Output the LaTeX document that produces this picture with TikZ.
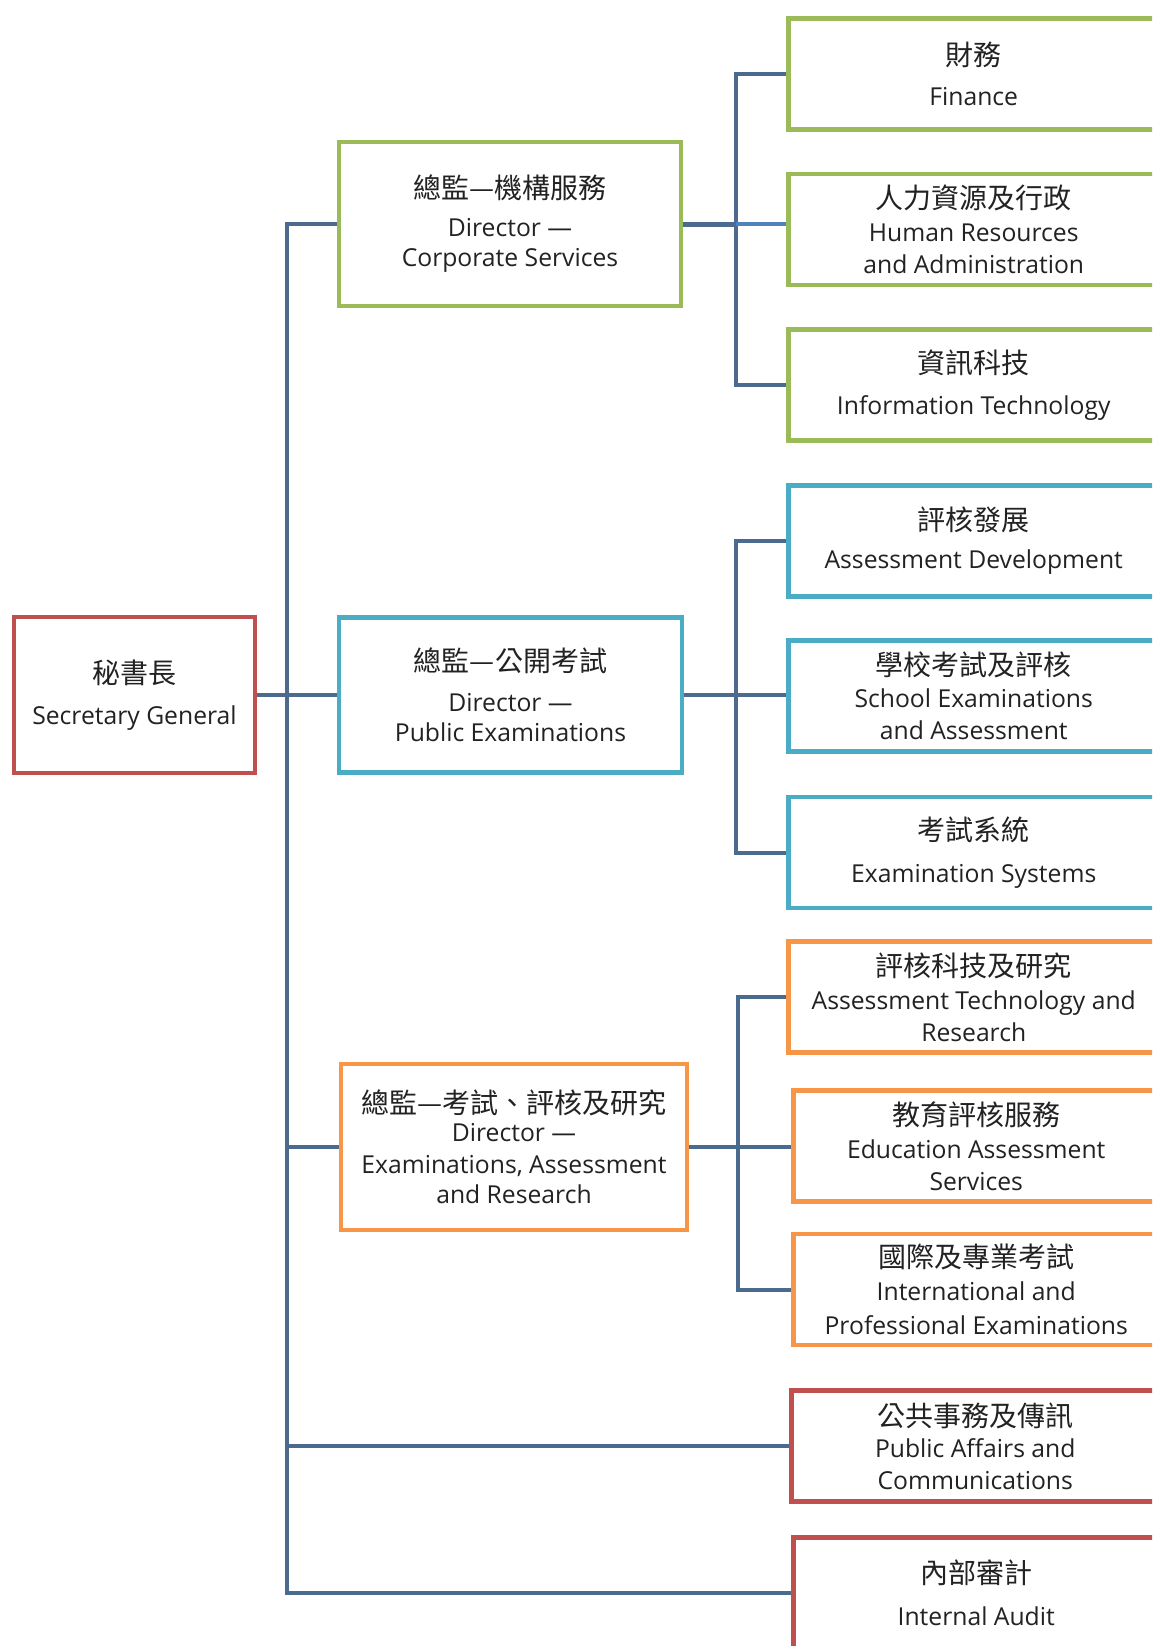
\documentclass[tikz,border=0pt]{standalone}
\usepackage{fontspec}
\setmainfont{Open Sans}
\newfontfamily\cjk{Noto Sans CJK TC}
\definecolor{grn}{HTML}{9BBB59}
\definecolor{blu}{HTML}{4BACC6}
\definecolor{org}{HTML}{F79646}
\definecolor{rdc}{HTML}{C0504D}
\definecolor{lnc}{HTML}{4A6A8F}
\definecolor{lnl}{HTML}{4F81BD}
\definecolor{txc}{HTML}{222222}
\newcommand\zhtxt[1]{{\cjk\fontsize{28}{32}\selectfont #1}}
\begin{document}
\begin{tikzpicture}[x=1pt,y=-1pt,
  box/.style={draw, line width=4.5pt, fill=white, align=center, inner sep=0pt,
    text=txc, font=\fontsize{24.7}{32}\selectfont},
  kid/.style={box, anchor=west, minimum height=111pt},
  conn/.style={draw=lnc, line width=4pt, line join=miter}]
\useasboundingbox (0,0) rectangle (1152,1646);
\clip (0,0) rectangle (1152,1646);
\fill[white] (0,0) rectangle (1152,1646);

% level 0 and 1
\node[box, draw=rdc, minimum width=241pt, minimum height=156pt] (sg) at (134.5,695)
  {\zhtxt{秘書長}\\[9pt]Secretary General};
\node[box, draw=grn, minimum width=342pt, minimum height=164pt] (corp) at (510,224)
  {\zhtxt{總監—機構服務}\\[6pt]Director —\\[-2pt]Corporate Services};
\node[box, draw=blu, minimum width=343pt, minimum height=155pt] (pub) at (510.5,695)
  {\zhtxt{總監—公開考試}\\[8pt]Director —\\[-2pt]Public Examinations};
\node[box, draw=org, minimum width=346pt, minimum height=166pt] (ear) at (514,1147)
  {\zhtxt{總監—考試、評核及研究}\\[-4pt]Director —\\Examinations, Assessment\\[-2pt]and Research};

% children
\node[kid, draw=grn, minimum width=371pt] (fin) at (786,74) {\zhtxt{財務}\\[8pt]Finance};
\node[kid, draw=grn, minimum width=371pt] (hr) at (786,229.5) {\zhtxt{人力資源及行政}\\[1pt]Human Resources\\and Administration};
\node[kid, draw=grn, minimum width=371pt] (it) at (786,385) {\zhtxt{資訊科技}\\[9pt]Information Technology};
\node[kid, draw=blu, minimum width=371pt] (ad) at (786,541) {\zhtxt{評核發展}\\[6pt]Assessment Development};
\node[kid, draw=blu, minimum width=371pt] (se) at (786,696) {\zhtxt{學校考試及評核}\\[0pt]School Examinations\\and Assessment};
\node[kid, draw=blu, minimum width=371pt] (es) at (786,852.5) {\zhtxt{考試系統}\\[10pt]Examination Systems};
\node[kid, draw=org, minimum width=371pt] (atr) at (786,997) {\zhtxt{評核科技及研究}\\[1pt]Assessment Technology and\\Research};
\node[kid, draw=org, minimum width=366pt] (eas) at (791,1146) {\zhtxt{教育評核服務}\\[1pt]Education Assessment\\Services};
\node[kid, draw=org, minimum width=366pt] (ipe) at (791,1289.5) {\zhtxt{國際及專業考試}\\[1pt]International and\\[2pt]Professional Examinations};
\node[kid, draw=rdc, minimum width=368pt] (pac) at (789,1446) {\zhtxt{公共事務及傳訊}\\[-1pt]Public Affairs and\\Communications};
\node[kid, draw=rdc, minimum width=366pt] (ia) at (791,1593) {\zhtxt{內部審計}\\[10pt]Internal Audit};

% bus positions
\coordinate (tr) at (287,0);
\coordinate (b1) at (736,0);
\coordinate (b2) at (736,0);
\coordinate (b3) at (738,0);

% connectors
\draw[conn] (corp.west) -| (tr |- ia.west) -- (ia.west);
\draw[conn] (sg.east) -- (pub.west);
\draw[conn] (tr |- ear.west) -- (ear.west);
\draw[conn] (tr |- pac.west) -- (pac.west);

\draw[conn] (fin.west) -| (b1 |- it.west) -- (it.west);
\draw[conn, line width=5pt] (corp.east) -- (b1 |- corp.east);
\draw[conn, draw=lnl] (b1 |- corp.east) -- (corp.east -| hr.west);

\draw[conn] (ad.west) -| (b2 |- es.west) -- (es.west);
\draw[conn] (pub.east) -- (pub.east -| se.west);

\draw[conn] (atr.west) -| (b3 |- ipe.west) -- (ipe.west);
\draw[conn] (ear.east) -- (ear.east -| eas.west);
\end{tikzpicture}
\end{document}
